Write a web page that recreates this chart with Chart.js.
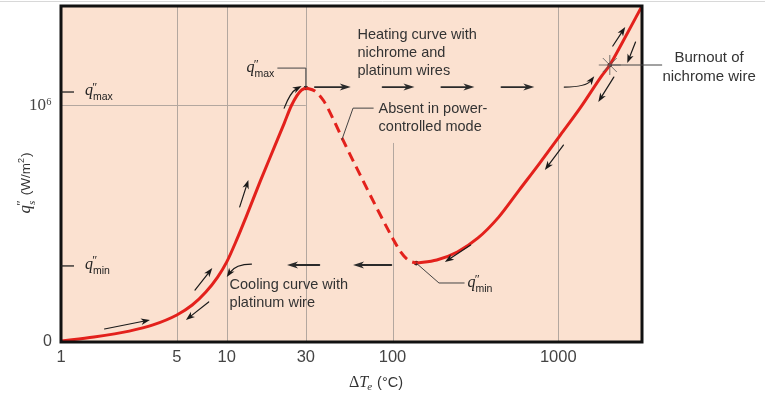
<!DOCTYPE html>
<html><head><meta charset="utf-8">
<script src="https://cdn.jsdelivr.net/npm/chart.js@4/dist/chart.umd.min.js"></script>
<style>html,body{margin:0;padding:0;background:#fff;}canvas{display:block;}</style>
</head><body>
<canvas id="c" width="765" height="394"></canvas>
<script>
// ---------- data (ΔTe in °C, q"s in W/m²) ----------
const xTickValues = [1, 5, 10, 30, 100, 1000];
const yTickValues = [0, 1000000];
const yTickLabels = ['0', '10⁶'];
const qMaxTick = 1055000;
const qMinTick = 321000;

// nucleate boiling branch (solid)
const nucleateT = [1, 1.58, 2.58, 3.59, 5, 6.19, 7.48, 8.81, 10, 11.54, 13.0, 15.93, 19.28, 22.24, 24.48, 26.63, 28.25, 30];
const nucleateQ = [4000, 21000, 46000, 72000, 114000, 156000, 211000, 274000, 338000, 435000, 523000, 679000, 819000, 924000, 996000, 1042000, 1063000, 1072000];
// transition boiling branch (dashed, absent in power-controlled mode)
const transitionT = [30, 34.0, 38.5, 43.6, 50.3, 65.6, 80.4, 100, 112, 124, 139];
const transitionQ = [1072000, 1059000, 1017000, 945000, 852000, 688000, 565000, 439000, 380000, 346000, 333000];
// film boiling branch (solid)
const filmT = [139, 185, 246, 328, 437, 581, 773, 1029, 1370, 1824, 2046, 2427, 3200];
const filmQ = [333000, 346000, 380000, 439000, 527000, 641000, 755000, 873000, 992000, 1122000, 1169000, 1262000, 1418000];
// marked points: q"max, q"min, burnout of nichrome wire
const markT = [30, 139, 2046];
const markQ = [1072000, 333000, 1169000];

const xMin = 1, xMax = 3200, yMin = 0, yMax = 1418000;

// ---------- annotation anchors (data coordinates) ----------
const heatingText = {t: 61.5, q: 1295000, lines: ['Heating curve with', 'nichrome and', 'platinum wires']};
const absentText = {t: 82.4, q: 983000, lines: ['Absent in power-', 'controlled mode']};
const coolingText = {t: 10.4, q: 240500, lines: ['Cooling curve with', 'platinum wire']};
const burnoutText = {t: 8128, q: 1198000, lines: ['Burnout of', 'nichrome wire']};

const heatArrows = [[34, 56], [87.1, 135.7], [197, 312], [454, 717]];
const heatArrowQ = 1076000;
const coolArrows = [[98.4, 57.8], [36.2, 23.1]];
const coolArrowQ = 325000;
// small arrows along the curve: [tail, (control), head] as [t,q]
const curveArrows = [
  [[1.83, 55000], [3.44, 93000]],
  [[7.78, 169000], [5.67, 93000]],
  [[6.43, 219000], [8.18, 312000]],
  [[11.97, 570000], [13.5, 684000]],
  [[22.2, 987000], [24.2, 1055000], [28.3, 1080000]],
  [[2133, 1249000], [2535, 1329000]],
  [[2925, 1266000], [2608, 1177000]],
  [[2163, 1118000], [1744, 1013000]],
  [[1074, 831000], [830, 726000]],
  [[296, 409000], [207, 338000]],
  [[1087, 1076000], [1475, 1076000], [1648, 1122000]],
  [[14.1, 329000], [11.3, 329000], [10, 274000]]
];
const leaders = {
  qmax: [[20.2, 1156000], [30, 1156000], [30, 1072000]],
  qmin: [[139, 333000], [190.7, 249000], [272, 249000]],
  absent: [[76.9, 987000], [57.8, 987000], [49.4, 852000]],
  burnout: [[2046, 1169000], [4233, 1169000]]
};

const toXY = (ts, qs) => ts.map((t, i) => ({x: t, y: qs[i]}));

const RED = '#e3211c';
const INK = '#333';
const SANS = "'Liberation Sans', Arial, sans-serif";
const SERIF = "'Liberation Serif', 'DejaVu Serif', serif";

function arrow(ctx, pts, lw, len, wid, color) {
  ctx.save();
  ctx.strokeStyle = color; ctx.fillStyle = color; ctx.lineWidth = lw; ctx.lineCap = 'round';
  const head = pts[pts.length - 1], prev = pts[pts.length - 2];
  const a = Math.atan2(head.y - prev.y, head.x - prev.x);
  const ux = Math.cos(a), uy = Math.sin(a), nx = -uy, ny = ux;
  const ex = head.x - ux * len * 0.6, ey = head.y - uy * len * 0.6;
  ctx.beginPath();
  ctx.moveTo(pts[0].x, pts[0].y);
  if (pts.length === 3) ctx.quadraticCurveTo(pts[1].x, pts[1].y, ex, ey); else ctx.lineTo(ex, ey);
  ctx.stroke();
  const bx = head.x - ux * len, by = head.y - uy * len, w = wid / 2;
  ctx.beginPath();
  ctx.moveTo(head.x, head.y);
  ctx.lineTo(bx + nx * w, by + ny * w);
  ctx.lineTo(head.x - ux * len * 0.72, head.y - uy * len * 0.72);
  ctx.lineTo(bx - nx * w, by - ny * w);
  ctx.closePath(); ctx.fill();
  ctx.restore();
}

// draw q" with subscript; x = left, y = baseline of q. returns width
function qSymbol(ctx, x, y, sub, qSize, subSize, subFont) {
  ctx.save();
  ctx.textBaseline = 'alphabetic'; ctx.textAlign = 'left';
  ctx.font = `italic ${qSize}px ${SERIF}`;
  ctx.fillText('q', x, y);
  const w = ctx.measureText('q').width;
  ctx.font = `italic ${Math.round(qSize * 0.75)}px ${SERIF}`;
  ctx.fillText('″', x + w - 1.5, y - qSize * 0.28);
  ctx.font = subFont || `${subSize}px ${SANS}`;
  ctx.fillText(sub, x + w, y + subSize * 0.45);
  const sw = ctx.measureText(sub).width;
  ctx.restore();
  return w + sw;
}

const boilPlugin = {
  id: 'boil',
  beforeDraw(chart) {
    const {ctx, chartArea: a} = chart;
    ctx.save();
    ctx.fillStyle = '#fff'; ctx.fillRect(0, 0, chart.width, chart.height);
    ctx.strokeStyle = '#d8d8d8'; ctx.lineWidth = 1;
    ctx.beginPath(); ctx.moveTo(0, 1.5); ctx.lineTo(chart.width, 1.5); ctx.stroke();
    ctx.fillStyle = '#fbe1d0';
    ctx.fillRect(a.left, a.top, a.right - a.left, a.bottom - a.top);
    ctx.restore();
  },
  beforeDatasetsDraw(chart) {
    const {ctx, chartArea: a, scales: {x, y}} = chart;
    ctx.save();
    ctx.strokeStyle = '#b3a79f'; ctx.lineWidth = 1;
    xTickValues.forEach(v => {
      if (v === xMin) return;
      const px = Math.round(x.getPixelForValue(v)) + 0.5;
      const top = v === 100 ? y.getPixelForValue(840000) : a.top;
      ctx.beginPath(); ctx.moveTo(px, top); ctx.lineTo(px, a.bottom); ctx.stroke();
    });
    const py = Math.round(y.getPixelForValue(1000000)) + 0.5;
    ctx.beginPath(); ctx.moveTo(a.left, py); ctx.lineTo(x.getPixelForValue(30), py); ctx.stroke();
    ctx.restore();
  },
  afterDatasetsDraw(chart) {
    const {ctx, chartArea: a, scales: {x, y}} = chart;
    const P = (t, q) => ({x: x.getPixelForValue(t), y: y.getPixelForValue(q)});
    ctx.save();
    // frame
    ctx.strokeStyle = '#111'; ctx.lineWidth = 3;
    ctx.strokeRect(a.left, a.top, a.right - a.left, a.bottom - a.top);

    // q"max / q"min ticks inside the frame
    ctx.strokeStyle = '#222'; ctx.lineWidth = 1.3; ctx.fillStyle = '#222';
    [[qMaxTick, 'max'], [qMinTick, 'min']].forEach(([v, s]) => {
      const py = y.getPixelForValue(v);
      ctx.beginPath(); ctx.moveTo(a.left, py); ctx.lineTo(a.left + 13, py); ctx.stroke();
      qSymbol(ctx, a.left + 24, py + 3, s, 16, 10.5);
    });

    // leaders
    ctx.strokeStyle = '#444'; ctx.lineWidth = 1;
    Object.values(leaders).forEach(l => {
      ctx.beginPath();
      l.forEach((p, i) => { const q = P(p[0], p[1]); i ? ctx.lineTo(q.x, q.y) : ctx.moveTo(q.x, q.y); });
      ctx.stroke();
    });
    // q"max label at leader start
    ctx.fillStyle = '#222';
    const lm = P(leaders.qmax[0][0], leaders.qmax[0][1]);
    ctx.save(); ctx.font = `10.5px ${SANS}`;
    const mw = ctx.measureText('max').width; ctx.font = `italic 16px ${SERIF}`;
    const qw = ctx.measureText('q').width; ctx.restore();
    qSymbol(ctx, lm.x - 3 - qw - mw, lm.y + 4, 'max', 16, 10.5);
    const ln = P(leaders.qmin[2][0], leaders.qmin[2][1]);
    qSymbol(ctx, ln.x + 3, ln.y + 4, 'min', 16, 10.5);

    // burnout star
    const b = P(markT[2], markQ[2]);
    ctx.strokeStyle = '#555'; ctx.lineWidth = 0.8;
    [[11, 0], [0, 10], [7, 7], [7, -7]].forEach(([dx, dy]) => {
      ctx.beginPath(); ctx.moveTo(b.x - dx, b.y - dy); ctx.lineTo(b.x + dx, b.y + dy); ctx.stroke();
    });

    // arrows
    heatArrows.forEach(([t1, t2]) => arrow(ctx, [P(t1, heatArrowQ), P(t2, heatArrowQ)], 1.8, 11, 7, '#2a2a2a'));
    coolArrows.forEach(([t1, t2]) => arrow(ctx, [P(t1, coolArrowQ), P(t2, coolArrowQ)], 1.8, 11, 7, '#2a2a2a'));
    curveArrows.forEach(pts => arrow(ctx, pts.map(p => P(p[0], p[1])), 1.2, 9, 6.5, '#1a1a1a'));

    // text annotations
    ctx.fillStyle = INK; ctx.font = `14.5px ${SANS}`; ctx.textBaseline = 'middle';
    [heatingText, absentText, coolingText].forEach(tx => {
      const p = P(tx.t, tx.q); ctx.textAlign = 'left';
      tx.lines.forEach((s, i) => ctx.fillText(s, p.x, p.y + i * 18));
    });
    const bp = P(burnoutText.t, burnoutText.q);
    ctx.textAlign = 'center'; ctx.font = `15px ${SANS}`;
    burnoutText.lines.forEach((s, i) => ctx.fillText(s, bp.x, bp.y + i * 18.5));

    // axis titles
    ctx.fillStyle = '#333'; ctx.textBaseline = 'alphabetic'; ctx.textAlign = 'left';
    // x title: ΔTe (°C)
    const xc = 376, yb = 387;
    ctx.font = `16px ${SERIF}`; const wD = ctx.measureText('Δ').width;
    ctx.font = `italic 16px ${SERIF}`; const wT = ctx.measureText('T').width;
    ctx.font = `italic 11px ${SERIF}`; const we = ctx.measureText('e').width;
    ctx.font = `14.5px ${SANS}`; const wc = ctx.measureText(' (°C)').width;
    let xx = xc - (wD + wT + we + wc) / 2;
    ctx.font = `16px ${SERIF}`; ctx.fillText('Δ', xx, yb); xx += wD;
    ctx.font = `italic 16px ${SERIF}`; ctx.fillText('T', xx, yb); xx += wT;
    ctx.font = `italic 11px ${SERIF}`; ctx.fillText('e', xx - 1, yb + 3); xx += we;
    ctx.font = `14.5px ${SANS}`; ctx.fillText(' (°C)', xx, yb);

    // y title: q"s (W/m²)
    ctx.save();
    ctx.translate(30, 183); ctx.rotate(-Math.PI / 2);
    ctx.font = `13.5px ${SANS}`; const w1 = ctx.measureText(' (W/m').width, w2 = ctx.measureText(')').width;
    ctx.font = `italic 17px ${SERIF}`; const wq = ctx.measureText('q').width;
    const total = wq + 6 + w1 + 6 + w2;
    let yy = -total / 2;
    qSymbol(ctx, yy, 0, 's', 17, 11, `italic 11px ${SERIF}`); yy += wq + 6;
    ctx.font = `13.5px ${SANS}`; ctx.fillText(' (W/m', yy, 0); yy += w1;
    ctx.font = `9px ${SANS}`; ctx.fillText('2', yy, -6); yy += 6;
    ctx.font = `13.5px ${SANS}`; ctx.fillText(')', yy, 0);
    ctx.restore();
    ctx.restore();
  }
};

new Chart(document.getElementById('c'), {
  type: 'line',
  data: {
    datasets: [
      {data: toXY(nucleateT, nucleateQ), borderColor: RED, borderWidth: 3, pointRadius: 0, cubicInterpolationMode: 'monotone'},
      {data: toXY(transitionT, transitionQ), borderColor: RED, borderWidth: 3, borderDash: [10, 6], pointRadius: 0, cubicInterpolationMode: 'monotone'},
      {data: toXY(filmT, filmQ), borderColor: RED, borderWidth: 3, pointRadius: 0, cubicInterpolationMode: 'monotone'},
      {type: 'scatter', data: toXY(markT, markQ), pointRadius: 2.3, pointBackgroundColor: '#111', pointBorderWidth: 0, showLine: false}
    ]
  },
  options: {
    responsive: false, animation: false, devicePixelRatio: 1,
    layout: {padding: {left: 0, right: 123, top: 6, bottom: 0}},
    plugins: {legend: {display: false}, tooltip: {enabled: false}},
    scales: {
      x: {
        type: 'logarithmic', min: xMin, max: xMax,
        afterBuildTicks: s => { s.ticks = xTickValues.map(v => ({value: v})); },
        afterFit: s => { s.height = 52; s.paddingLeft = 0; s.paddingRight = 0; },
        grid: {display: false, drawTicks: false},
        border: {display: false},
        ticks: {autoSkip: false, maxRotation: 0, padding: 6, color: '#444',
          font: {family: 'Liberation Sans', size: 16.5}, callback: v => String(v)}
      },
      y: {
        type: 'linear', min: yMin, max: yMax,
        afterBuildTicks: s => { s.ticks = yTickValues.map(v => ({value: v})); },
        afterFit: s => { s.width = 61; s.paddingTop = 0; s.paddingBottom = 0; },
        grid: {display: false, drawTicks: false},
        border: {display: false},
        ticks: {padding: 9, color: '#444',
          font: c => (c.tick && c.tick.value === 0) ? {family: 'Liberation Sans', size: 16} : {family: 'Liberation Serif', size: 17},
          callback: v => yTickLabels[yTickValues.indexOf(v)]}
      }
    }
  },
  plugins: [boilPlugin]
});
</script>
</body></html>
